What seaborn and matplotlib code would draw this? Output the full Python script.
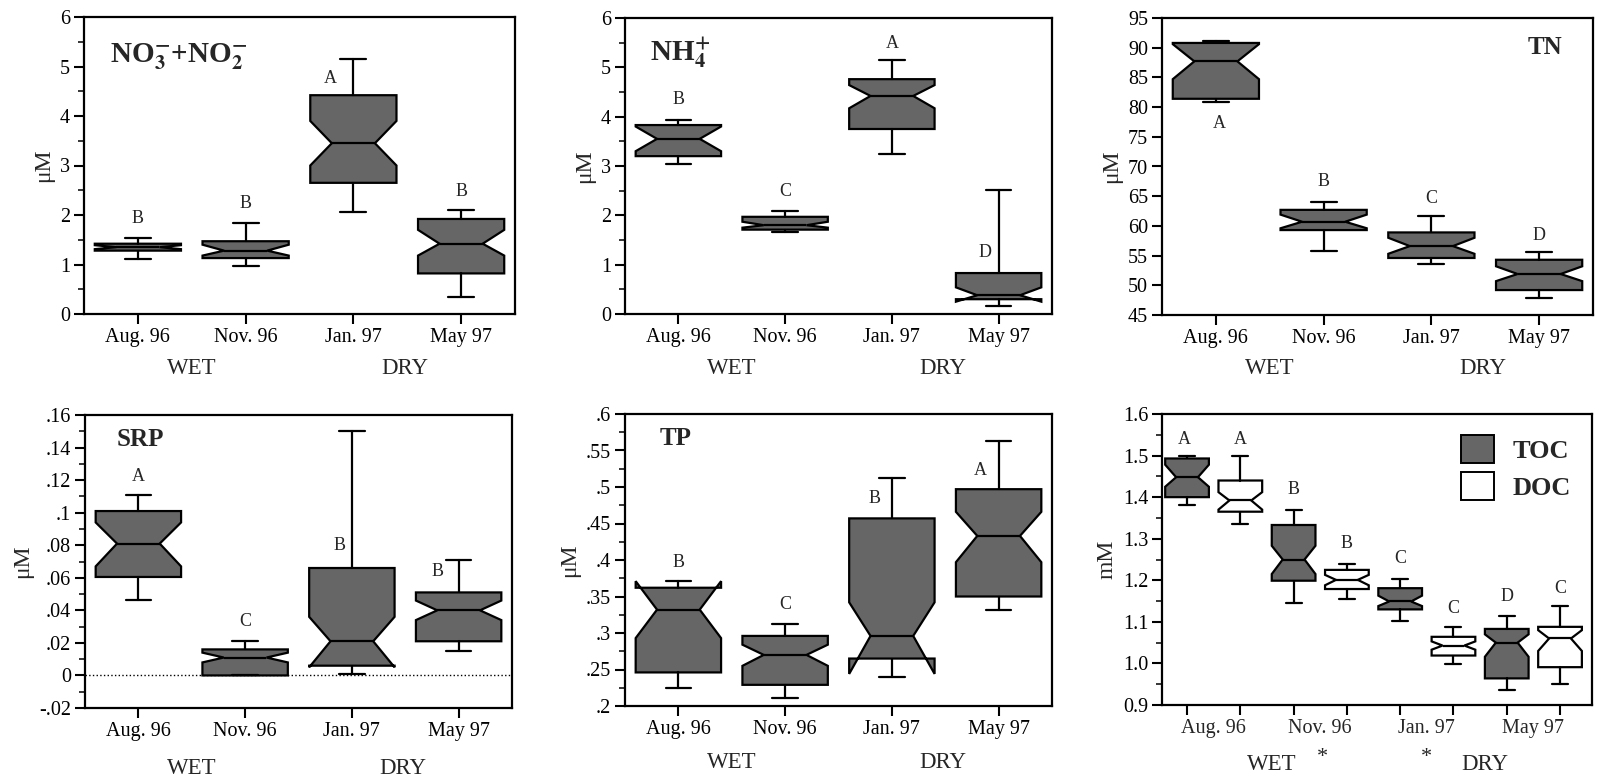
import numpy as np
import matplotlib
matplotlib.use("Agg")
import matplotlib.pyplot as plt
from matplotlib.patches import Patch
from matplotlib.ticker import MultipleLocator, FuncFormatter, FixedLocator
import seaborn as sns

# ---------------- data ----------------
months = ["Aug. 96", "Nov. 96", "Jan. 97", "May 97"]

# NO3- + NO2-  (uM)
no3_med = [1.35, 1.28, 3.45, 1.42]
no3_q1 = [1.28, 1.13, 2.65, 0.82]
no3_q3 = [1.42, 1.47, 4.42, 1.92]
no3_cilo = [1.31, 1.18, 3.00, 1.18]
no3_cihi = [1.39, 1.40, 3.90, 1.70]
no3_lo = [1.11, 0.96, 2.07, 0.34]
no3_hi = [1.53, 1.83, 5.15, 2.11]
no3_letters = ["B", "B", "A", "B"]
no3_letter_y = [1.93, 2.23, 4.75, 2.47]
no3_letter_dx = [0, 0, -0.21, 0]

# NH4+  (uM)
nh4_med = [3.55, 1.80, 4.42, 0.38]
nh4_q1 = [3.20, 1.71, 3.75, 0.30]
nh4_q3 = [3.83, 1.97, 4.76, 0.83]
nh4_cilo = [3.30, 1.75, 4.17, 0.25]
nh4_cihi = [3.80, 1.87, 4.64, 0.54]
nh4_lo = [3.05, 1.66, 3.25, 0.17]
nh4_hi = [3.94, 2.08, 5.14, 2.52]
nh4_letters = ["B", "C", "A", "D"]
nh4_letter_y = [4.34, 2.49, 5.49, 1.24]
nh4_letter_dx = [0, 0, 0, -0.13]

# TN  (uM)
tn_med = [87.7, 60.7, 56.6, 51.9]
tn_q1 = [81.4, 59.3, 54.6, 49.2]
tn_q3 = [90.8, 62.7, 58.9, 54.3]
tn_cilo = [84.7, 59.6, 55.3, 50.7]
tn_cihi = [90.6, 61.9, 58.0, 53.2]
tn_lo = [80.8, 55.8, 53.6, 47.8]
tn_hi = [91.1, 64.0, 61.6, 55.6]
tn_letters = ["A", "B", "C", "D"]
tn_letter_y = [77.3, 67.4, 64.6, 58.4]
tn_letter_dx = [0.03, 0, 0, 0]

# SRP  (uM)
srp_med = [0.081, 0.011, 0.021, 0.040]
srp_q1 = [0.0605, 0.000, 0.006, 0.021]
srp_q3 = [0.101, 0.016, 0.066, 0.051]
srp_cilo = [0.067, 0.008, 0.005, 0.034]
srp_cihi = [0.094, 0.014, 0.036, 0.046]
srp_lo = [0.0465, 0.000, 0.001, 0.015]
srp_hi = [0.111, 0.021, 0.150, 0.071]
srp_letters = ["A", "C", "B", "B"]
srp_letter_y = [0.122, 0.033, 0.080, 0.064]
srp_letter_dx = [0, 0, -0.12, -0.2]

# TP  (uM)
tp_med = [0.332, 0.270, 0.296, 0.433]
tp_q1 = [0.246, 0.229, 0.265, 0.350]
tp_q3 = [0.362, 0.296, 0.457, 0.497]
tp_cilo = [0.293, 0.255, 0.244, 0.397]
tp_cihi = [0.371, 0.284, 0.342, 0.466]
tp_lo = [0.225, 0.211, 0.240, 0.331]
tp_hi = [0.371, 0.312, 0.512, 0.563]
tp_letters = ["B", "C", "B", "A"]
tp_letter_y = [0.396, 0.339, 0.484, 0.522]
tp_letter_dx = [0, 0, -0.16, -0.17]

# TOC / DOC  (mM), order: Aug TOC, Aug DOC, Nov TOC, Nov DOC, ...
oc_series = ["TOC", "DOC", "TOC", "DOC", "TOC", "DOC", "TOC", "DOC"]
oc_med = [1.448, 1.392, 1.250, 1.201, 1.149, 1.043, 1.050, 1.060]
oc_q1 = [1.400, 1.365, 1.199, 1.179, 1.130, 1.019, 0.964, 0.991]
oc_q3 = [1.493, 1.440, 1.333, 1.225, 1.181, 1.064, 1.083, 1.088]
oc_cilo = [1.425, 1.370, 1.215, 1.188, 1.138, 1.033, 1.016, 1.030]
oc_cihi = [1.478, 1.412, 1.283, 1.213, 1.163, 1.053, 1.070, 1.080]
oc_lo = [1.380, 1.336, 1.146, 1.155, 1.103, 0.999, 0.935, 0.951]
oc_hi = [1.498, 1.498, 1.369, 1.239, 1.203, 1.087, 1.115, 1.137]
oc_letters = ["A", "A", "B", "B", "C", "C", "D", "C"]
oc_letter_y = [1.538, 1.538, 1.418, 1.288, 1.253, 1.133, 1.161, 1.180]
oc_letter_dx = [-0.05, 0, 0, 0, 0, 0, 0, 0]

season_labels = ["WET", "DRY"]

# ---------------- style ----------------
sns.set_theme(style="ticks")
plt.rcParams["font.family"] = ["Liberation Serif", "DejaVu Serif"]
plt.rcParams["mathtext.fontset"] = "stix"
plt.rcParams["axes.linewidth"] = 1.6

GRAY = "#666666"
W, H = 1614, 779
fig = plt.figure(figsize=(W / 100, H / 100), dpi=100)
fig.patch.set_facecolor("white")


def add_ax(l, r, t, b):
    return fig.add_axes([l / W, 1 - b / H, (r - l) / W, (b - t) / H])


def stats(med, q1, q3, cilo, cihi, lo, hi):
    out = []
    for i in range(len(med)):
        out.append(dict(med=med[i], q1=q1[i], q3=q3[i], cilo=cilo[i],
                        cihi=cihi[i], whislo=lo[i], whishi=hi[i], fliers=[]))
    return out


def draw_boxes(ax, st, colors, width, capw):
    pos = np.arange(len(st))
    art = ax.bxp(st, positions=pos, widths=width, shownotches=True,
                 patch_artist=True, showfliers=False, capwidths=capw,
                 boxprops=dict(edgecolor="black", linewidth=1.6),
                 medianprops=dict(color="black", linewidth=1.6),
                 whiskerprops=dict(color="black", linewidth=1.6),
                 capprops=dict(color="black", linewidth=1.6))
    for p, c in zip(art["boxes"], colors):
        p.set_facecolor(c)
    return pos


def style_ax(ax, xlim, ylim, major, minor, fmt=None):
    ax.set_xlim(*xlim)
    ax.set_ylim(*ylim)
    ax.yaxis.set_major_locator(MultipleLocator(major))
    if minor:
        ax.yaxis.set_minor_locator(MultipleLocator(minor))
    if fmt:
        ax.yaxis.set_major_formatter(FuncFormatter(fmt))
    ax.tick_params(axis="both", which="major", direction="out", length=7,
                   width=1.5, labelsize=14.5, colors="black", pad=3)
    ax.tick_params(axis="y", which="minor", direction="out", length=4,
                   width=1.3, left=True)
    for s in ax.spines.values():
        s.set_visible(True)
        s.set_color("black")
        s.set_linewidth(1.6)
    ax.set_facecolor("white")
    ax.grid(False)


def dec_fmt(v, _):
    s = f"{v:.2f}".rstrip("0").rstrip(".")
    if s.startswith("0."):
        s = s[1:]
    elif s.startswith("-0."):
        s = "-" + s[2:]
    if s in ("-0", ""):
        s = "0"
    return s


def seasons(ax, xs, dy_px, size=16.5):
    for x, lab in zip(xs, season_labels):
        ax.annotate(lab, xy=(x, 0), xycoords=("data", "axes fraction"),
                    xytext=(0, -dy_px * 0.72), textcoords="offset points",
                    ha="center", va="center", fontsize=size)


def letters(ax, pos, labs, ys, dxs, size=13):
    for x, lab, y, dx in zip(pos, labs, ys, dxs):
        ax.text(x + dx, y, lab, ha="center", va="center", fontsize=size,
                zorder=6)


def four_panel(rect, med, q1, q3, cilo, cihi, lo, hi, labs, ly, ldx, ylim,
               major, minor, title, title_xy, title_ha="left", fmt=None,
               dy=55, tsize=18):
    ax = add_ax(*rect)
    st = stats(med, q1, q3, cilo, cihi, lo, hi)
    pos = draw_boxes(ax, st, [GRAY] * 4, 0.8, 0.24)
    style_ax(ax, (-0.5, 3.5), ylim, major, minor, fmt)
    ax.xaxis.set_major_locator(FixedLocator(pos))
    ax.set_xticklabels(months)
    ax.set_ylabel("μM", fontsize=17, labelpad=4)
    letters(ax, pos, labs, ly, ldx)
    ax.text(title_xy[0], title_xy[1], title, transform=ax.transAxes,
            ha=title_ha, va="center", fontsize=tsize, fontweight="bold")
    seasons(ax, [0.5, 2.48], dy)
    return ax


# Panel 1: NO3 + NO2
four_panel((84, 515, 17, 314), no3_med, no3_q1, no3_q3, no3_cilo, no3_cihi,
           no3_lo, no3_hi, no3_letters, no3_letter_y, no3_letter_dx,
           (0, 6), 1, 0.5,
           r"NO$_\mathbf{3}^{\mathbf{-}}$+NO$_\mathbf{2}^{\mathbf{-}}$",
           (0.06, 0.865), dy=54, tsize=21)

# Panel 2: NH4+
four_panel((625, 1052, 18, 314), nh4_med, nh4_q1, nh4_q3, nh4_cilo, nh4_cihi,
           nh4_lo, nh4_hi, nh4_letters, nh4_letter_y, nh4_letter_dx,
           (0, 6), 1, 0.5,
           r"NH$_\mathbf{4}^{\mathbf{+}}$", (0.058, 0.885), dy=54, tsize=21)

# Panel 3: TN
four_panel((1162, 1593, 18, 315), tn_med, tn_q1, tn_q3, tn_cilo, tn_cihi,
           tn_lo, tn_hi, tn_letters, tn_letter_y, tn_letter_dx,
           (45, 95), 5, None,
           "TN", (0.93, 0.90), title_ha="right", dy=54)

# Panel 4: SRP
ax4 = four_panel((85, 512, 415, 708), srp_med, srp_q1, srp_q3, srp_cilo,
                 srp_cihi, srp_lo, srp_hi, srp_letters, srp_letter_y,
                 srp_letter_dx, (-0.02, 0.16), 0.02, 0.01, "SRP",
                 (0.075, 0.915), fmt=dec_fmt, dy=60)
ax4.axhline(0, color="black", linestyle=":", linewidth=1.0, zorder=0)

# Panel 5: TP
four_panel((625, 1052, 414, 706), tp_med, tp_q1, tp_q3, tp_cilo, tp_cihi,
           tp_lo, tp_hi, tp_letters, tp_letter_y, tp_letter_dx,
           (0.2, 0.6), 0.05, 0.025,
           "TP", (0.082, 0.915), fmt=dec_fmt, dy=56)

# Panel 6: TOC / DOC
ax6 = add_ax(1162, 1592, 414, 705)
st6 = stats(oc_med, oc_q1, oc_q3, oc_cilo, oc_cihi, oc_lo, oc_hi)
colors6 = [GRAY if s == "TOC" else "white" for s in oc_series]
pos6 = draw_boxes(ax6, st6, colors6, 0.82, 0.3)
style_ax(ax6, (-0.47, 7.6), (0.9, 1.6), 0.1, 0.05,
         fmt=lambda v, _: f"{v:.1f}")
ax6.xaxis.set_major_locator(FixedLocator(pos6))
ax6.set_xticklabels([""] * len(pos6))
ax6.xaxis.set_minor_locator(FixedLocator([0.5, 2.5, 4.5, 6.5]))
ax6.set_xticklabels(months, minor=True)
ax6.tick_params(axis="x", which="minor", length=0, labelsize=14.5, pad=10)
ax6.set_ylabel("mM", fontsize=17, labelpad=4)
letters(ax6, pos6, oc_letters, oc_letter_y, oc_letter_dx)
for x, lab in zip([1.59, 5.59], season_labels):
    ax6.annotate(lab, xy=(x, 0), xycoords=("data", "axes fraction"),
                 xytext=(0, -60 * 0.72), textcoords="offset points",
                 ha="center", va="center", fontsize=16.5)
for x in [2.55, 4.5]:
    ax6.annotate("*", xy=(x, 0), xycoords=("data", "axes fraction"),
                 xytext=(0, -52 * 0.72), textcoords="offset points",
                 ha="center", va="center", fontsize=16)
handles = [Patch(facecolor=GRAY, edgecolor="black", linewidth=1.4),
           Patch(facecolor="white", edgecolor="black", linewidth=1.4)]
leg = ax6.legend(handles, ["TOC", "DOC"], loc="upper right",
                 frameon=False, handlelength=1.25, handleheight=1.25,
                 handletextpad=0.7, labelspacing=0.35, borderaxespad=0.4,
                 prop=dict(family="Liberation Serif", weight="bold", size=19))

fig.savefig("out.png", dpi=100, facecolor="white")
